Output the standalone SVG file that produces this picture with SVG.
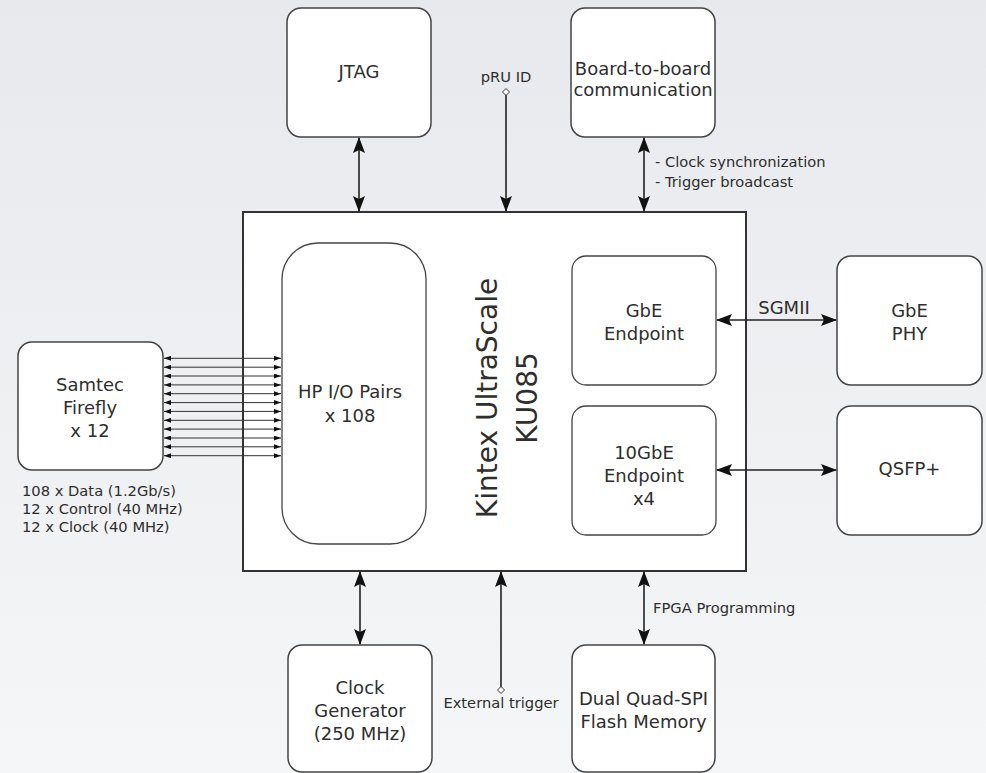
<svg xmlns="http://www.w3.org/2000/svg" width="986" height="773" viewBox="0 0 986 773">
<defs>
<linearGradient id="bg" x1="0" y1="0" x2="0" y2="1">
<stop offset="0" stop-color="#e8e9ec"/>
<stop offset="1" stop-color="#f5f6f8"/>
</linearGradient>
<marker id="ah" viewBox="0 0 16 12" refX="15" refY="6" markerWidth="16" markerHeight="12" markerUnits="userSpaceOnUse" orient="auto-start-reverse">
<path d="M0,0 L16,6 L0,12 L3,6 Z" fill="#111"/>
</marker>
<marker id="sh" viewBox="0 0 7 5" refX="7" refY="2.5" markerWidth="7" markerHeight="5" markerUnits="userSpaceOnUse" orient="auto-start-reverse">
<path d="M0,0 L7,2.5 L0,5 Z" fill="#111"/>
</marker>
<marker id="dia" viewBox="0 0 8 8" refX="4" refY="4" markerWidth="8" markerHeight="8" markerUnits="userSpaceOnUse">
<path d="M4,0.5 L7.5,4 L4,7.5 L0.5,4 Z" fill="#fff" stroke="#333" stroke-width="1"/>
</marker>
</defs>
<style>
text{font-family:"DejaVu Sans","Noto Sans",sans-serif;fill:#2e2e2e;}
.box{fill:#fff;stroke:#444;stroke-width:1.5;}
.ibox{fill:#fff;stroke:#444;stroke-width:1.3;}
.lbl{font-size:18px;text-anchor:middle;}
.sm{font-size:14.7px;}
.big{font-size:28px;text-anchor:middle;}
.c{stroke:#222;stroke-width:1.6;fill:none;}
.t{stroke:#333;stroke-width:1;fill:none;}
</style>
<rect x="0" y="0" width="986" height="773" fill="url(#bg)"/>

<g id="fpga">
<rect x="243" y="212" width="503" height="359" fill="#fff" stroke="#333" stroke-width="2"/>
<text class="big" transform="translate(497,398) rotate(-90)">Kintex UltraScale</text>
<text class="big" transform="translate(537,398) rotate(-90)">KU085</text>
</g>
<g id="hpio">
<rect class="ibox" x="282" y="243" width="144" height="301" rx="36"/>
<text class="lbl" x="350" y="398">HP I/O Pairs</text>
<text class="lbl" x="350" y="422">x 108</text>
</g>
<g id="gbe-endpoint">
<rect class="ibox" x="572" y="256" width="144" height="129" rx="14"/>
<text class="lbl" x="644" y="317">GbE</text>
<text class="lbl" x="644" y="340">Endpoint</text>
</g>
<g id="tengbe-endpoint">
<rect class="ibox" x="572" y="406" width="144" height="129" rx="14"/>
<text class="lbl" x="644" y="459">10GbE</text>
<text class="lbl" x="644" y="482">Endpoint</text>
<text class="lbl" x="644" y="505">x4</text>
</g>
<g id="jtag">
<rect class="box" x="287" y="8" width="144" height="129" rx="14"/>
<text class="lbl" x="359" y="78">JTAG</text>
</g>
<g id="b2b">
<rect class="box" x="571" y="8" width="144" height="129" rx="14"/>
<text class="lbl" x="643" y="75">Board-to-board</text>
<text class="lbl" x="643" y="96">communication</text>
</g>
<g id="gbe-phy">
<rect class="box" x="837" y="256" width="145" height="129" rx="14"/>
<text class="lbl" x="909.5" y="317">GbE</text>
<text class="lbl" x="909.5" y="340">PHY</text>
</g>
<g id="qsfp">
<rect class="box" x="837" y="406" width="145" height="129" rx="14"/>
<text class="lbl" x="909.5" y="475">QSFP+</text>
</g>
<g id="samtec">
<rect class="box" x="18" y="342" width="145" height="128" rx="14"/>
<text class="lbl" x="90" y="391">Samtec</text>
<text class="lbl" x="90" y="414">Firefly</text>
<text class="lbl" x="90" y="437">x 12</text>
</g>
<g id="clockgen">
<rect class="box" x="288" y="645" width="144" height="127" rx="14"/>
<text class="lbl" x="360" y="694">Clock</text>
<text class="lbl" x="360" y="717">Generator</text>
<text class="lbl" x="360" y="740">(250 MHz)</text>
</g>
<g id="flash">
<rect class="box" x="572" y="645" width="143" height="127" rx="14"/>
<text class="lbl" x="643.5" y="705">Dual Quad-SPI</text>
<text class="lbl" x="643.5" y="728">Flash Memory</text>
</g>

<g id="connectors">
<line class="c" x1="359" y1="138" x2="359" y2="211" marker-start="url(#ah)" marker-end="url(#ah)"/>
<line class="c" x1="506" y1="92" x2="506" y2="211" marker-start="url(#dia)" marker-end="url(#ah)"/>
<line class="c" x1="644" y1="138" x2="644" y2="211" marker-start="url(#ah)" marker-end="url(#ah)"/>
<line class="c" x1="717" y1="320" x2="836" y2="320" marker-start="url(#ah)" marker-end="url(#ah)"/>
<line class="c" x1="717" y1="470" x2="836" y2="470" marker-start="url(#ah)" marker-end="url(#ah)"/>
<line class="c" x1="360" y1="572" x2="360" y2="644" marker-start="url(#ah)" marker-end="url(#ah)"/>
<line class="c" x1="501" y1="690" x2="501" y2="572" marker-start="url(#dia)" marker-end="url(#ah)"/>
<line class="c" x1="644" y1="572" x2="644" y2="644" marker-start="url(#ah)" marker-end="url(#ah)"/>
<g marker-start="url(#sh)" marker-end="url(#sh)">
<line class="t" x1="164" y1="358.3" x2="281" y2="358.3"/>
<line class="t" x1="164" y1="367.2" x2="281" y2="367.2"/>
<line class="t" x1="164" y1="376" x2="281" y2="376"/>
<line class="t" x1="164" y1="384.9" x2="281" y2="384.9"/>
<line class="t" x1="164" y1="393.7" x2="281" y2="393.7"/>
<line class="t" x1="164" y1="402.6" x2="281" y2="402.6"/>
<line class="t" x1="164" y1="411.4" x2="281" y2="411.4"/>
<line class="t" x1="164" y1="420.3" x2="281" y2="420.3"/>
<line class="t" x1="164" y1="429.1" x2="281" y2="429.1"/>
<line class="t" x1="164" y1="438" x2="281" y2="438"/>
<line class="t" x1="164" y1="446.8" x2="281" y2="446.8"/>
<line class="t" x1="164" y1="455.7" x2="281" y2="455.7"/>
</g>
</g>

<g id="labels">
<text class="sm" x="506" y="82" text-anchor="middle">pRU ID</text>
<text class="sm" x="655" y="167">- Clock synchronization</text>
<text class="sm" x="655" y="187">- Trigger broadcast</text>
<text class="lbl" x="784" y="314">SGMII</text>
<text class="sm" x="653" y="613">FPGA Programming</text>
<text class="sm" x="501" y="708" text-anchor="middle">External trigger</text>
<text class="sm" x="22" y="496">108 x Data (1.2Gb/s)</text>
<text class="sm" x="22" y="514">12 x Control (40 MHz)</text>
<text class="sm" x="22" y="532">12 x Clock (40 MHz)</text>
</g>
</svg>
